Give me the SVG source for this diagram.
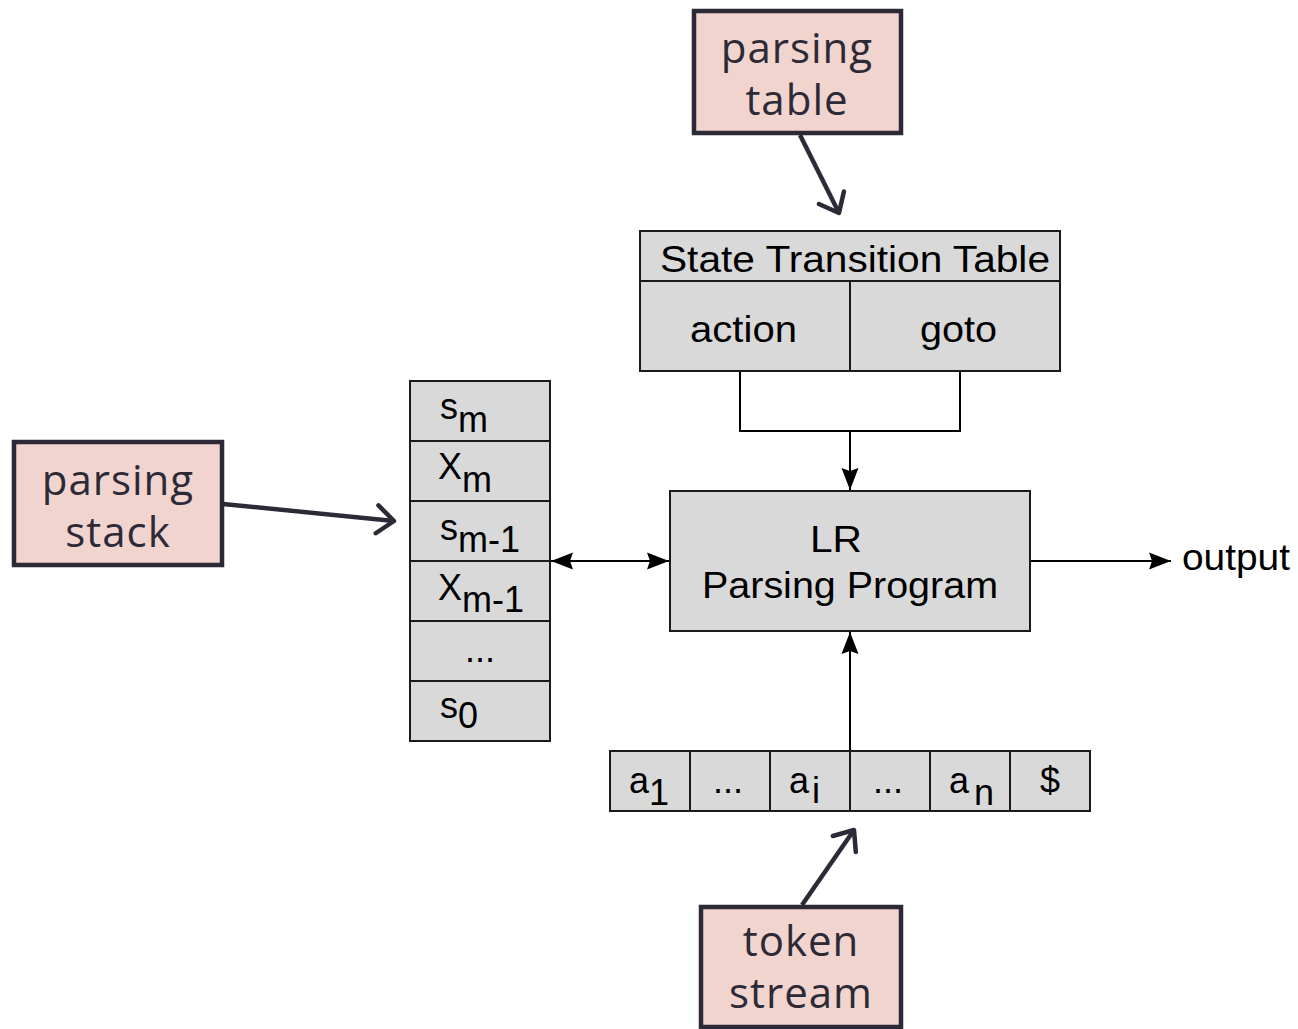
<svg xmlns="http://www.w3.org/2000/svg" width="1298" height="1029" viewBox="0 0 1298 1029">
  <style>
    .cell { fill: #d9d9d9; stroke: #1a1a1a; stroke-width: 2; }
    .wire { fill: none; stroke: #000; stroke-width: 2; }
    .t { font-family: "Liberation Sans", Arial, sans-serif; font-size: 36px; fill: #000; }
    .note { fill: #f2d4cf; stroke: #2b2a36; stroke-width: 4.5; }
    .nt { font-family: "Open Sans", "DejaVu Sans", sans-serif; font-size: 42px; letter-spacing: 1px; fill: #2b2a36; text-anchor: middle; }
    .point { fill: none; stroke: #2b2a36; stroke-width: 4.5; }
  </style>
  <defs>
    <marker id="solid" viewBox="-24 -10 26 20" refX="0" refY="0" markerWidth="26" markerHeight="20" markerUnits="userSpaceOnUse" orient="auto-start-reverse">
      <path d="M0,0 L-22,-8.5 L-19,0 L-22,8.5 Z" fill="#000"/>
    </marker>
    <marker id="chev" viewBox="-24 -18 28 36" refX="0" refY="0" markerWidth="28" markerHeight="36" markerUnits="userSpaceOnUse" orient="auto">
      <path d="M-17,-14 L0,0 L-17,14" fill="none" stroke="#2b2a36" stroke-width="4.5" stroke-linecap="round" stroke-linejoin="round"/>
    </marker>
  </defs>

  <!-- connectors -->
  <g id="connectors">
    <polyline class="wire" points="740,371 740,431 960,431 960,371"/>
    <line class="wire" x1="850" y1="431" x2="850" y2="490" marker-end="url(#solid)"/>
    <line class="wire" x1="551" y1="561" x2="669" y2="561" marker-start="url(#solid)" marker-end="url(#solid)"/>
    <line class="wire" x1="1030" y1="561" x2="1171" y2="561" marker-end="url(#solid)"/>
    <line class="wire" x1="850" y1="751" x2="850" y2="632" marker-end="url(#solid)"/>
    <line class="point" x1="800" y1="135" x2="839" y2="213" marker-end="url(#chev)"/>
    <line class="point" x1="223" y1="504" x2="394" y2="521" marker-end="url(#chev)"/>
    <line class="point" x1="802" y1="905" x2="854" y2="830" marker-end="url(#chev)"/>
  </g>

  <!-- state transition table -->
  <g id="table">
    <rect class="cell" x="640" y="231" width="420" height="50"/>
    <rect class="cell" x="640" y="281" width="210" height="90"/>
    <rect class="cell" x="850" y="281" width="210" height="90"/>
    <text class="t" x="660" y="272" textLength="390" lengthAdjust="spacingAndGlyphs">State Transition Table</text>
    <text class="t" x="690" y="342" textLength="107" lengthAdjust="spacingAndGlyphs">action</text>
    <text class="t" x="920" y="342" textLength="77" lengthAdjust="spacingAndGlyphs">goto</text>
  </g>

  <!-- driver program -->
  <g id="program">
    <rect class="cell" x="670" y="491" width="360" height="140"/>
    <text class="t" x="810" y="552" textLength="52" lengthAdjust="spacingAndGlyphs">LR</text>
    <text class="t" x="702" y="598" textLength="296" lengthAdjust="spacingAndGlyphs">Parsing Program</text>
  </g>

  <!-- stack -->
  <g id="stack">
    <rect class="cell" x="410" y="381" width="140" height="60"/>
    <rect class="cell" x="410" y="441" width="140" height="60"/>
    <rect class="cell" x="410" y="501" width="140" height="60"/>
    <rect class="cell" x="410" y="561" width="140" height="60"/>
    <rect class="cell" x="410" y="621" width="140" height="60"/>
    <rect class="cell" x="410" y="681" width="140" height="60"/>
    <text class="t" x="440" y="419">s<tspan dy="13">m</tspan></text>
    <text class="t" x="438" y="479">X<tspan dy="13">m</tspan></text>
    <text class="t" x="440" y="540">s<tspan dy="12">m-1</tspan></text>
    <text class="t" x="438" y="600">X<tspan dy="12">m-1</tspan></text>
    <text class="t" x="480" y="662" text-anchor="middle">...</text>
    <text class="t" x="440" y="718">s<tspan dy="10">0</tspan></text>
  </g>

  <!-- input tokens -->
  <g id="input">
    <rect class="cell" x="610" y="751" width="80" height="60"/>
    <rect class="cell" x="690" y="751" width="80" height="60"/>
    <rect class="cell" x="770" y="751" width="80" height="60"/>
    <rect class="cell" x="850" y="751" width="80" height="60"/>
    <rect class="cell" x="930" y="751" width="80" height="60"/>
    <rect class="cell" x="1010" y="751" width="80" height="60"/>
    <text class="t" x="629" y="793">a<tspan dy="12">1</tspan></text>
    <text class="t" x="728" y="793" text-anchor="middle">...</text>
    <text class="t" x="789" y="793">a<tspan dx="3" dy="10">i</tspan></text>
    <text class="t" x="888" y="793" text-anchor="middle">...</text>
    <text class="t" x="949" y="793">a<tspan dx="5" dy="12">n</tspan></text>
    <text class="t" x="1050" y="793" text-anchor="middle">$</text>
  </g>

  <text id="output" class="t" x="1182" y="570" textLength="108" lengthAdjust="spacingAndGlyphs">output</text>

  <!-- annotations -->
  <g id="note-table">
    <rect class="note" x="694" y="11" width="207" height="122"/>
    <text class="nt" x="797" y="63">parsing</text>
    <text class="nt" x="797" y="115">table</text>
  </g>
  <g id="note-stack">
    <rect class="note" x="14" y="442" width="208" height="123"/>
    <text class="nt" x="118" y="495">parsing</text>
    <text class="nt" x="118" y="547">stack</text>
  </g>
  <g id="note-tokens">
    <rect class="note" x="701" y="907" width="200" height="120"/>
    <text class="nt" x="801" y="956">token</text>
    <text class="nt" x="801" y="1008">stream</text>
  </g>
</svg>
